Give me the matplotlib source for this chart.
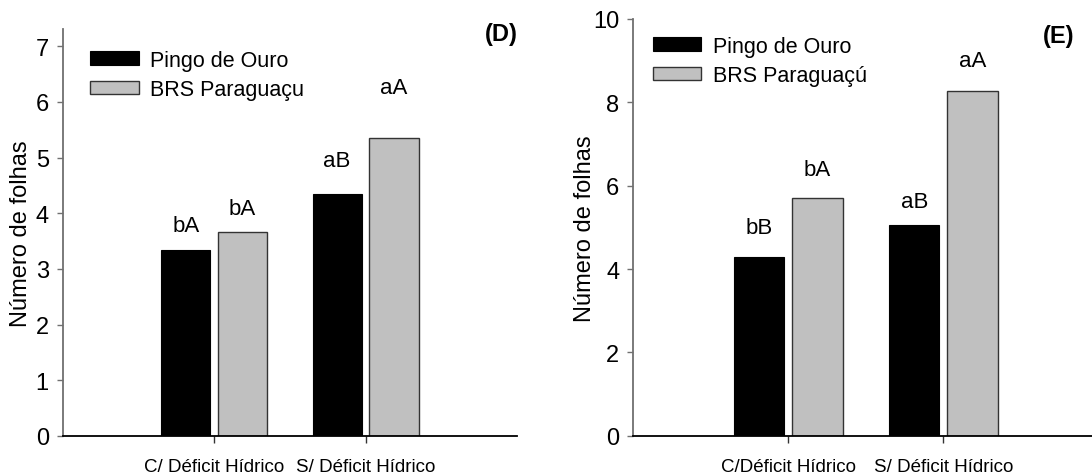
import matplotlib
matplotlib.use("Agg")
import matplotlib.pyplot as plt

# data
groups_d = ["C/ Déficit Hídrico", "S/ Déficit Hídrico"]
groups_e = ["C/Déficit Hídrico", "S/ Déficit Hídrico"]
pingo_d = [3.34, 4.34]
brs_d = [3.67, 5.35]
pingo_e = [4.30, 5.05]
brs_e = [5.70, 8.27]
letters_pingo_d = ["bA", "aB"]
letters_brs_d = ["bA", "aA"]
letters_pingo_e = ["bB", "aB"]
letters_brs_e = ["bA", "aA"]
# heights where the letters sit
lab_y_pingo_d = [3.78, 4.95]
lab_y_brs_d = [4.08, 6.25]
lab_y_pingo_e = [5.0, 5.62]
lab_y_brs_e = [6.40, 9.0]

plt.rcParams['font.family'] = ['Liberation Sans', 'DejaVu Sans']

W, H = 1092, 477
fig = plt.figure(figsize=(W / 100, H / 100), dpi=100)

bw = 0.325
off = 0.1875


def panel(rect, groups, pingo, brs, lp, lb, ylp, ylb, ymax, yticks, brs_name, tag, tagpos, legpos):
    ax = fig.add_axes(rect)
    x = [1, 2]
    ax.bar([i - off for i in x], pingo, bw, color="black", edgecolor="black", lw=0.8,
           label="Pingo de Ouro")
    ax.bar([i + off for i in x], brs, bw, color="#c0c0c0", edgecolor="#333333", lw=1.0,
           label=brs_name)
    for i in range(len(x)):
        ax.text(x[i] - off, ylp[i], lp[i], ha="center", va="center", fontsize=16)
        ax.text(x[i] + off, ylb[i], lb[i], ha="center", va="center", fontsize=16)
    ax.set_xlim(0, 3)
    ax.set_ylim(0, ymax)
    ax.set_xticks(x)
    ax.set_xticklabels(groups, fontsize=13.5)
    ax.set_yticks(yticks)
    ax.tick_params(axis="y", length=4, width=1, color="#707070", pad=6, labelsize=17)
    ax.tick_params(axis="x", length=5, width=1, color="#333333", pad=11)
    for s in ["top", "right"]:
        ax.spines[s].set_visible(False)
    ax.spines["left"].set_color("#707070")
    ax.spines["left"].set_linewidth(1.3)
    ax.spines["bottom"].set_linewidth(1.3)
    ax.set_ylabel("Número de folhas", fontsize=17)
    ax.legend(loc="upper left", bbox_to_anchor=legpos, borderpad=0, borderaxespad=0,
              frameon=False, handlelength=2.26, handleheight=0.58, handletextpad=0.53,
              labelspacing=0.38, fontsize=15.5)
    fig.text(tagpos[0] / W, 1 - tagpos[1] / H, tag, ha="center", va="center",
             fontsize=17, fontweight="bold")
    return ax


ax1 = panel([62.7 / W, 40 / H, 454.3 / W, 406.6 / H], groups_d, pingo_d, brs_d,
            letters_pingo_d, letters_brs_d, lab_y_pingo_d, lab_y_brs_d,
            7.3, range(0, 8), "BRS Paraguaçu", "(D)", (501, 35), (0.060, 0.950))
ax1.yaxis.set_label_coords(-0.068, 0.5)

ax2 = panel([633.3 / W, 40.3 / H, 465 / W, 416.7 / H], groups_e, pingo_e, brs_e,
            letters_pingo_e, letters_brs_e, lab_y_pingo_e, lab_y_brs_e,
            10, range(0, 11, 2), "BRS Paraguaçú", "(E)", (1059, 36), (0.042, 0.960))
ax2.yaxis.set_label_coords(-0.080, 0.5)

fig.savefig("out.png", dpi=100)
